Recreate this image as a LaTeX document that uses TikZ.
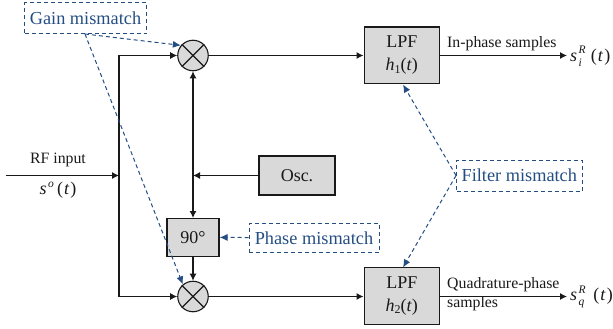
\documentclass[tikz,border=0pt]{standalone}
\usepackage{fontspec}
\setmainfont{Liberation Serif}
\usetikzlibrary{arrows.meta}
\definecolor{bluem}{RGB}{36,78,130}
\definecolor{boxg}{RGB}{217,217,217}
\definecolor{txt}{RGB}{25,25,25}
\newcommand\scrf{\fontsize{11.5}{12}\selectfont\itshape}
\newcommand\vv[1]{\mbox{\itshape #1}}
\newcommand\sbs[1]{\mbox{\scrf #1}}
\newcommand\symb[3]{\vv{#1}\kern1.5pt\raisebox{7.5pt}{\rlap{\scrf #3}}\raisebox{-5pt}{\scrf #2}\kern9pt(\kern1pt\textit{t}\kern1pt)}
\tikzset{
  x=1pt,y=-1pt,
  sig/.style={draw=txt,line width=1.1pt,-{Latex[length=7pt,width=7pt]}},
  wire/.style={draw=txt,line width=1.1pt},
  mis/.style={draw=bluem,line width=1pt,dash pattern=on 4pt off 3pt,-{Latex[length=8pt,width=7pt]}},
  misbox/.style={draw=bluem,line width=1pt,dash pattern=on 4pt off 3pt,text=bluem,font=\fontsize{18.3}{20}\selectfont,inner sep=0pt,anchor=center},
  block/.style={draw=txt,line width=1.1pt,fill=boxg,inner sep=0pt,align=center,text=txt,font=\fontsize{18}{23}\selectfont,anchor=center},
  mixer/.style={draw=txt,line width=1.1pt,fill=boxg,circle,minimum size=30.5pt,inner sep=0pt},
  lbl/.style={text=txt,font=\fontsize{15.8}{18}\selectfont,inner sep=0pt},
  sym/.style={text=txt,font=\fontsize{18}{20}\selectfont,inner sep=0pt}
}
\begin{document}
\begin{tikzpicture}
\useasboundingbox (0,0) rectangle (613,329);
\node[mixer] (m1) at (193,55.5) {};
\node[mixer] (m2) at (193,296.5) {};
\draw[wire] (m1.45) -- (m1.225) (m1.135) -- (m1.315);
\draw[wire] (m2.45) -- (m2.225) (m2.135) -- (m2.315);
\node[block,minimum width=52pt,minimum height=37.5pt] (ph) at (193,237.3) {90°};
\node[block,minimum width=76pt,minimum height=39pt] (osc) at (297,175.5) {Osc.};
\node[block,minimum width=75.5pt,minimum height=56.5pt] (l1) at (401.8,55.3) {LPF\\\textit{h}\raisebox{-2.5pt}{\fontsize{12}{12}\selectfont 1}(\textit{t})};
\node[block,minimum width=75.5pt,minimum height=56.5pt] (l2) at (401.8,296) {LPF\\\textit{h}\raisebox{-2.5pt}{\fontsize{12}{12}\selectfont 2}(\textit{t})};
\node[misbox,minimum width=122pt,minimum height=31pt] (gain) at (85.5,18.5) {Gain mismatch};
\node[misbox,minimum width=130pt,minimum height=29.5pt] (phm) at (314,237.8) {Phase mismatch};
\node[misbox,minimum width=125.5pt,minimum height=31pt] (fm) at (519.3,175.5) {Filter mismatch};
\coordinate (in) at (6,175.5);
\coordinate (bus) at (119,175.5);
\coordinate (bt) at (119,55.5);
\coordinate (bb) at (119,296.5);
\coordinate (j) at (193,175.5);
\coordinate (o1) at (567,55.5);
\coordinate (o2) at (567,296.5);
\coordinate (gs) at (85,34);
\coordinate (t1) at (403,84.5);
\coordinate (t2) at (403,267.5);
\draw[sig] (in) -- (bus);
\draw[wire] (bt) -- (bb);
\draw[sig] (bt) -- (m1);
\draw[sig] (bb) -- (m2);
\draw[sig] (osc) -- (j);
\draw[sig,{Latex[length=7pt,width=7pt]}-{Latex[length=7pt,width=7pt]}] (m1) -- (ph);
\draw[sig] (ph) -- (m2);
\draw[sig] (m1) -- (m1 -| l1.west);
\draw[sig] (m2) -- (m2 -| l2.west);
\draw[sig] (m1 -| l1.east) -- (o1);
\draw[sig] (m2 -| l2.east) -- (o2);
\draw[mis] (gs) -- (m1.140);
\draw[mis] (gs) -- (m2.130);
\draw[mis] (phm) -- (ph);
\draw[mis] (fm.west) -- (t1);
\draw[mis] (fm.west) -- (t2);
\node[lbl] at (58,159.5) (rf) {RF input};
\node[sym] at (58,191) (s0) {\symb{s}{}{o}};
\node[lbl,anchor=west] at (447,44) (ip) {In-phase samples};
\node[lbl,anchor=west] at (447,285) (qp) {Quadrature-phase};
\node[lbl,anchor=west] at (447,304) (sm) {samples};
\node[sym,anchor=west] at (570,56) (si) {\symb{s}{i}{R}};
\node[sym,anchor=west] at (570,297) (sq) {\symb{s}{q}{R}};
\end{tikzpicture}
\end{document}
